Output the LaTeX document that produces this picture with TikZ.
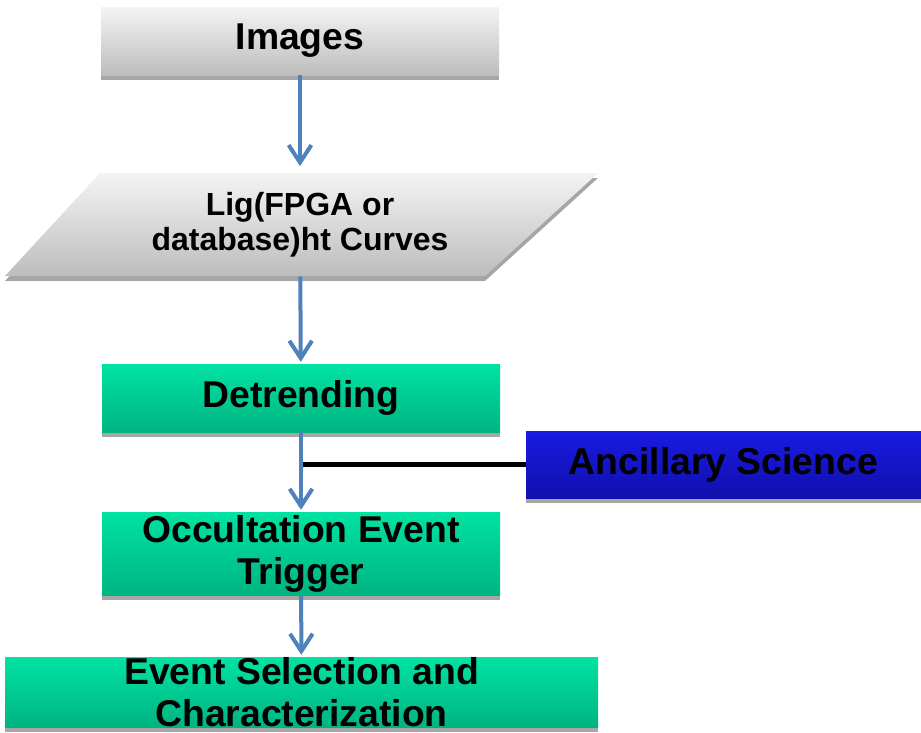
\documentclass[tikz,border=0pt]{standalone}
\usepackage{fontspec}
\setmainfont{Liberation Sans}
\usetikzlibrary{arrows.meta,shadows}

\definecolor{flowblue}{HTML}{4F81BD}
\definecolor{greytop}{HTML}{F4F4F4}
\definecolor{greybot}{HTML}{BDBDBD}
\definecolor{greentop}{HTML}{00E3A2}
\definecolor{greenbot}{HTML}{00B482}
\definecolor{bluetop}{HTML}{1A1AE4}
\definecolor{bluebot}{HTML}{1010AC}

\tikzset{box/.style={rectangle,draw=none,align=center,inner sep=0pt,
    minimum width=298.5pt,minimum height=51pt,
    font=\bfseries\fontsize{28}{31.5}\selectfont,
    drop shadow={shadow xshift=0pt,shadow yshift=-3.5pt,fill=black!35,opacity=1}}}
\tikzset{greybox/.style={box,top color=greytop,bottom color=greybot}}
\tikzset{greenbox/.style={box,top color=greentop,bottom color=greenbot}}
\tikzset{bluebox/.style={box,top color=bluetop,bottom color=bluebot}}
\tikzset{flow/.style={draw=flowblue,line width=3pt,shorten >=1.5pt,
    -{Straight Barb[length=13pt,width=17pt]},
    preaction={draw=black!40,transform canvas={yshift=-2pt}}}}

\begin{document}
\begin{tikzpicture}[x=0.75pt,y=-0.75pt]
  \useasboundingbox (0,0) rectangle (921,732);

  % light curve parallelogram
  \fill[black!35] (100,178) -- (598,178) -- (485,281) -- (5,281) -- cycle;
  \shade[top color=greytop,bottom color=greybot]
    (100,173) -- (598,173) -- (485,276) -- (5,276) -- cycle;

  \node[greybox] (img) at (300,41) {Images};
  \node[align=center,minimum height=77.25pt,inner sep=0pt,
    font=\bfseries\fontsize{24}{26}\selectfont] (lc) at (300,224.5)
    {Lig(FPGA or\\database)ht Curves};
  \node[greenbox] (det) at (301,398) {Detrending};
  \node[bluebox,minimum width=296.25pt,minimum height=50.25pt] (anc)
    at (723.5,464.5) {Ancillary Science};
  \node[greenbox,minimum height=62.25pt] (occ) at (301,553.5)
    {Occultation Event\\Trigger};
  \node[greenbox,minimum width=444.75pt,minimum height=52.5pt] (sel)
    at (301.5,692) {Event Selection and\\Characterization};

  \coordinate (j) at (det.south |- anc.west);
  \draw[line width=3.75pt] (anc.west) -- (j);

  \draw[flow,shorten >=5pt] (img) -- (lc);
  \draw[flow] (lc) -- (det);
  \draw[flow] (det) -- (occ);
  \draw[flow] (occ) -- (sel);
\end{tikzpicture}
\end{document}
